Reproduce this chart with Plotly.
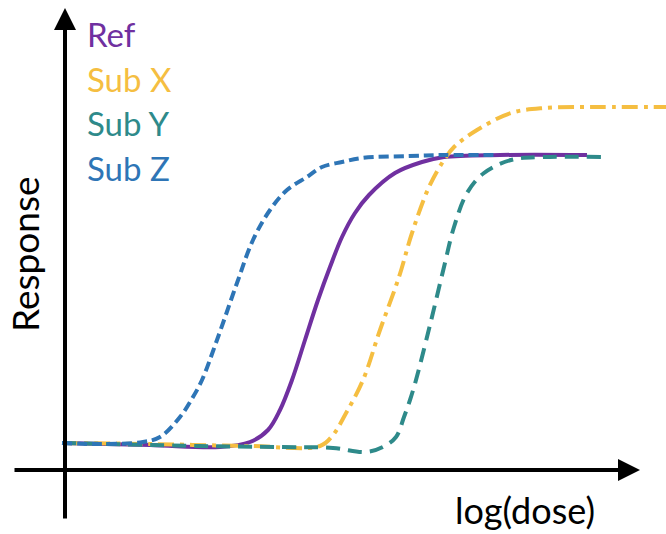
import plotly.graph_objects as go

# Data in chart units: log dose (origin at the vertical axis), response (origin at the horizontal axis); schematic
ref_x = [-3, 85, 155, 185, 203, 215, 227, 240, 253, 265, 277, 290, 304, 330, 357, 379, 435, 522]
ref_y = [27, 25, 23, 28, 40, 60, 90, 130, 170, 203, 233, 257, 275, 297, 308, 313, 315, 315]

subx_x = [-3, 85, 185, 255, 268, 280, 298, 315, 334, 347, 364, 379, 389, 412, 446, 479, 535, 601]
subx_y = [27, 26, 24, 24, 35, 55, 90, 140, 193, 237, 283, 310, 323, 340, 357, 362, 363, 363]

suby_x = [-3, 135, 215, 268, 301, 318, 331, 339, 345, 351, 365, 379, 389, 402, 419, 446, 479, 537]
suby_y = [27, 24, 23, 22, 18, 23, 33, 53, 70, 90, 145, 203, 243, 277, 297, 310, 313, 313]

subz_x = [-3, 35, 78, 95, 115, 128, 137, 152, 172, 188, 205, 222, 242, 257, 277, 297, 344, 379, 432]
subz_y = [27, 26, 28, 33, 53, 73, 90, 130, 187, 230, 260, 280, 293, 303, 308, 312, 314, 315, 315]

names = ["Ref", "Sub X", "Sub Y", "Sub Z"]
colors = ["#7030A0", "#F5BE41", "#2E8A8A", "#2E75B6"]
dashes = ["solid", "16px,6px,4px,6px", "14px,8px", "10px,5px"]

fig = go.Figure()
for xs, ys, c, d, n in zip([ref_x, subx_x, suby_x, subz_x], [ref_y, subx_y, suby_y, subz_y], colors, dashes, names):
    fig.add_trace(go.Scatter(x=xs, y=ys, mode="lines", name=n,
                             line=dict(color=c, width=4, dash=d, shape="spline", smoothing=1.0)))

font = "Lato, Calibri, 'Open Sans', sans-serif"

annotations = []
# axis arrows
annotations.append(dict(x=575, y=0, ax=-52, ay=0, xref="x", yref="y", axref="x", ayref="y",
                        showarrow=True, arrowhead=2, arrowsize=1.1, arrowwidth=4, arrowcolor="black", text=""))
annotations.append(dict(x=0, y=462, ax=0, ay=-50, xref="x", yref="y", axref="x", ayref="y",
                        showarrow=True, arrowhead=2, arrowsize=1.1, arrowwidth=4, arrowcolor="black", text=""))
# legend labels
leg_y = [436, 391, 347, 302]
for n, c, yy in zip(names, colors, leg_y):
    annotations.append(dict(x=20, y=yy, xref="x", yref="y", text=n, showarrow=False, xanchor="left",
                            yanchor="middle", font=dict(family=font, size=33, color=c)))
annotations.append(dict(x=460, y=-64, xref="x", yref="y", text="log(dose)", showarrow=False,
                        xanchor="center", yanchor="bottom", yshift=0,
                        font=dict(family=font, size=36, color="black")))
annotations.append(dict(x=-41, y=215, xref="x", yref="y", text="Response", showarrow=False, textangle=-90,
                        xanchor="center", yanchor="middle", font=dict(family=font, size=37, color="black")))

fig.update_layout(
    width=666, height=534, margin=dict(l=0, r=0, t=0, b=0),
    paper_bgcolor="white", plot_bgcolor="white", showlegend=False,
    xaxis=dict(range=[-65, 601], visible=False, fixedrange=True),
    yaxis=dict(range=[-64, 470], visible=False, fixedrange=True),
    annotations=annotations,
)
fig.write_html("out.html")
